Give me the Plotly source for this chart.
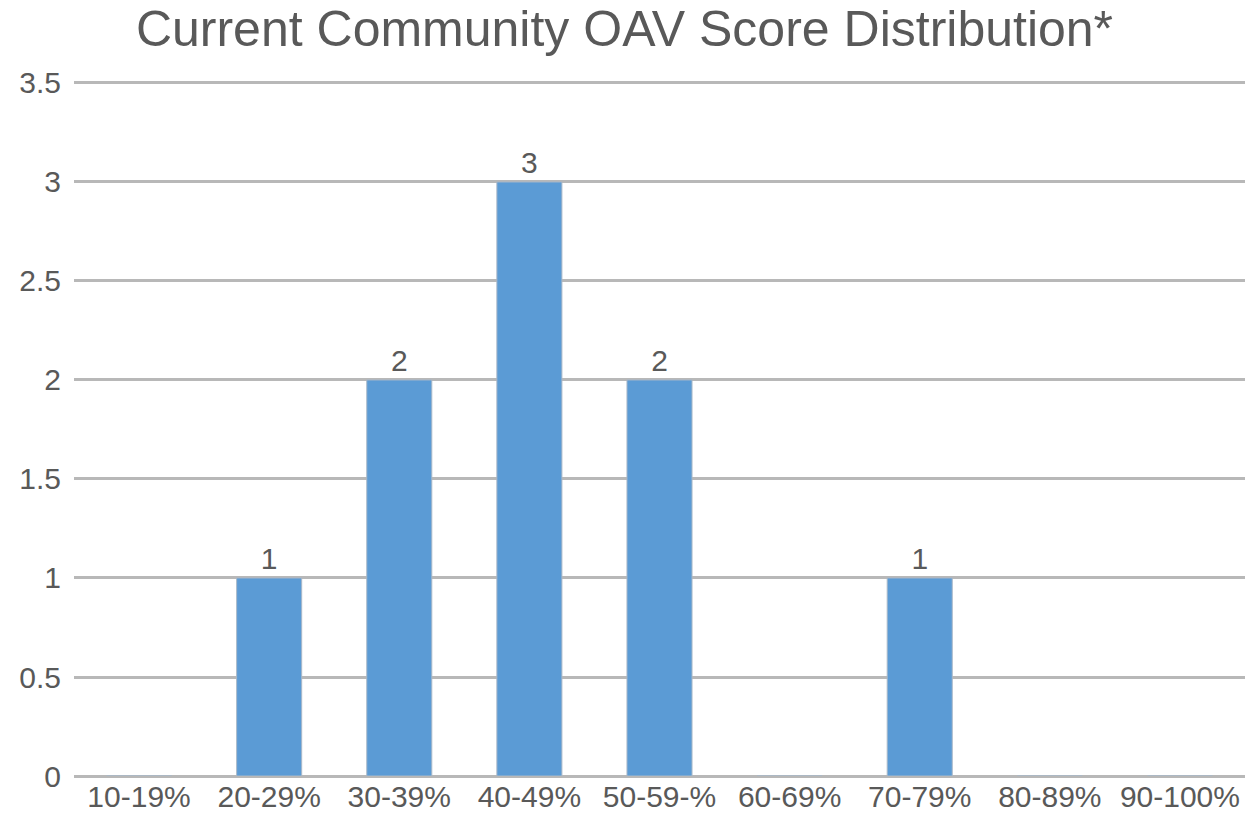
import plotly.graph_objects as go

categories = ["10-19%", "20-29%", "30-39%", "40-49%", "50-59-%", "60-69%", "70-79%", "80-89%", "90-100%"]
counts = [0, 1, 2, 3, 2, 0, 1, 0, 0]
y_ticks = [0, 0.5, 1, 1.5, 2, 2.5, 3, 3.5]
y_tick_labels = ["0", "0.5", "1", "1.5", "2", "2.5", "3", "3.5"]
title = "Current Community OAV Score Distribution*"

labels = [str(v) if v else "" for v in counts]

fig = go.Figure(go.Bar(
    x=categories, y=counts, text=labels, textposition="outside",
    textfont=dict(size=30, color="#595959"),
    marker=dict(color="#5B9BD5", line=dict(color="#a9b8c8", width=1)),
    width=0.5, cliponaxis=False,
))

fig.update_layout(
    width=1249, height=823,
    margin=dict(l=74, r=4, t=80, b=47),
    plot_bgcolor="white", paper_bgcolor="white",
    font=dict(family="Liberation Sans, Arial, sans-serif", color="#595959"),
    title=dict(text=title, x=0.5, xanchor="center", y=0.965, yanchor="middle",
               font=dict(size=50, color="#595959")),
    showlegend=False,
    bargap=0.5,
)
fig.update_yaxes(range=[0, 3.515], tickvals=y_ticks, ticktext=y_tick_labels,
                 showgrid=True, gridcolor="#b8b8b8", gridwidth=2.5,
                 zeroline=True, zerolinecolor="#b8b8b8", zerolinewidth=2.5,
                 tickfont=dict(size=30, color="#595959"), ticklabelstandoff=12,
                 showline=False, automargin=False)
fig.update_xaxes(tickfont=dict(size=30, color="#595959"), showline=False,
                 ticks="", tickangle=0, automargin=False)

fig.write_html("out.html", config={"displayModeBar": False},
               post_script="document.body.style.margin='0';document.body.style.overflow='hidden';")
